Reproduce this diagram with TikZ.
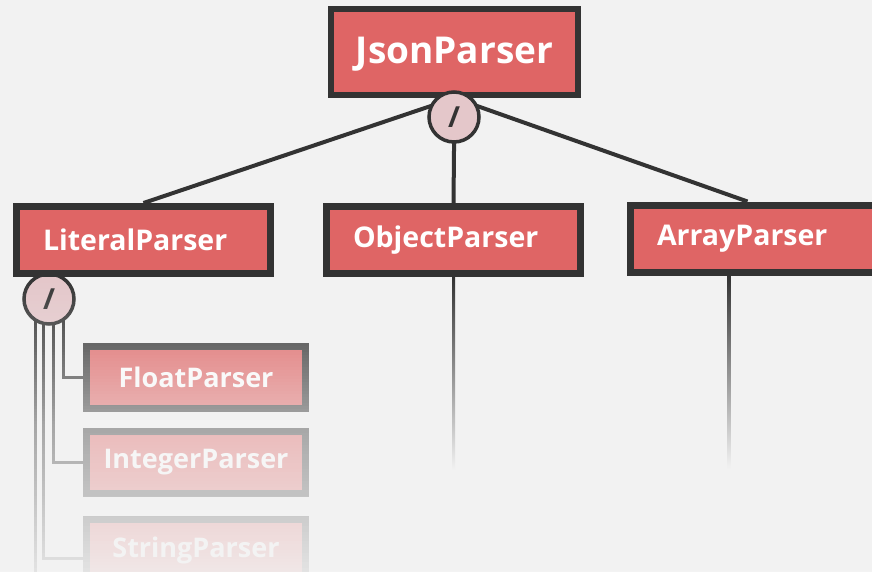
\documentclass[tikz,border=0pt]{standalone}
\usepackage{fontspec}
\setmainfont{Open Sans}
\usetikzlibrary{backgrounds}

\definecolor{bgcol}{HTML}{F2F2F2}
\definecolor{boxfill}{HTML}{DF6565}
\definecolor{boxline}{HTML}{333333}
\definecolor{orfill}{HTML}{E4C7CA}

\tikzset{
  parser/.style={draw=boxline, fill=boxfill, line width=7pt, text=white,
    font=\bfseries\fontsize{28.5}{28.5}\selectfont, minimum height=67pt,
    text width=201pt, inner xsep=26.5pt, align=left},
  rootbox/.style={draw=boxline, fill=boxfill, line width=6pt, text=white,
    font=\bfseries\fontsize{37}{37}\selectfont, minimum width=247pt,
    minimum height=86pt, text height=27pt, text depth=4pt},
  leafbox/.style={draw=boxline, fill=boxfill, line width=7pt, text=white,
    font=\bfseries\fontsize{27}{27}\selectfont, minimum width=219pt,
    minimum height=62pt},
  orgroup/.style={circle, draw=boxline, fill=orfill, line width=3.5pt,
    minimum size=50pt, inner sep=0pt, text=boxline,
    font=\bfseries\fontsize{29}{29}\selectfont},
  tree/.style={draw=boxline, line width=4pt},
  subtree/.style={draw=boxline, line width=3pt},
}

\begin{document}
\begin{tikzpicture}[x=1pt, y=1pt]
  \useasboundingbox (0,0) rectangle (872,-571);
  \clip (0,0) rectangle (872,-571);

  \node[rootbox] (json) at (454.5,-52) {JsonParser};
  \node[orgroup] (litor) at (49,-299) {/};
  \node[parser] (lit) at (143.5,-240) {LiteralParser};
  \node[parser] (obj) at (453.5,-240) {ObjectParser};
  \node[parser] (arr) at (757.5,-238.5) {ArrayParser};
  \node[orgroup] (jsonor) at (454,-117) {/};

  \node[leafbox] (float) at (196,-377.5) {FloatParser};
  \node[leafbox] (integer) at (196,-462) {IntegerParser};
  \node[leafbox] (string) at (196,-550) {StringParser};

  \coordinate (litend) at ([xshift=-14pt]litor.center |- 0,-575);
  \coordinate (objend) at ([yshift=-193pt]obj.south);
  \coordinate (arrfoot) at ([xshift=-28.5pt]arr.south);
  \coordinate (arrend) at ([yshift=-193pt]arrfoot);

  \begin{scope}[on background layer]
    \fill[bgcol] (0,0) rectangle (872,-571);
    \path[tree]
      (json.south) edge (lit.north)
      (json.south) edge (obj.north)
      (json.south) edge ([xshift=-10pt]arr.north);
    \draw[subtree] ([xshift=14pt]litor.center) |- (float.west);
    \draw[subtree] ([xshift=4pt]litor.center) |- (integer.west);
    \draw[subtree] ([xshift=-6pt]litor.center) |- ([yshift=-8pt]string.west);
    \draw[subtree] ([xshift=-14pt]litor.center) -- (litend);
  \end{scope}

  % lower part fades out, strip by strip
  \foreach \k in {0,...,98} {
    \pgfmathsetmacro\ytop{277+3*\k}
    \pgfmathsetmacro\op{\ytop<424 ? (\ytop+1.5-277)*0.00408 : 0.6+(\ytop+1.5-424)*0.00218}
    \fill[bgcol, opacity=\op] (-5,-\ytop) rectangle (877,-\ytop-3);
  }

  \shade[top color=boxline, bottom color=bgcol]
    ([xshift=-1.5pt]obj.south) rectangle ([xshift=1.5pt]objend);
  \shade[top color=boxline, bottom color=bgcol]
    ([xshift=-1.5pt]arrfoot) rectangle ([xshift=1.5pt]arrend);
\end{tikzpicture}
\end{document}
